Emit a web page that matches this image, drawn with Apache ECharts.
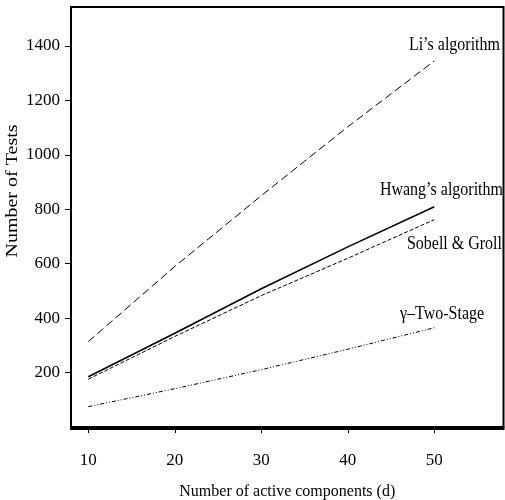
<!DOCTYPE html>
<html>
<head>
<meta charset="utf-8">
<script src="https://cdn.jsdelivr.net/npm/echarts@6/dist/echarts.min.js"></script>
<style>
  html, body { margin: 0; padding: 0; background: #fff; }
  #chart { width: 505px; height: 500px; }
</style>
</head>
<body>
<div id="chart"></div>
<script>
// Number of tests needed by each group-testing algorithm versus d
const activeComponents = [10, 20, 30, 40, 50];
const lisAlgorithm   = [314, 590, 850, 1103, 1345];
const hwangAlgorithm = [185, 345, 508, 662, 809];
const sobellGroll    = [176, 333, 483, 620, 762];
const gammaTwoStage  = [75, 141, 211, 286, 365];

const xTicks = [10, 20, 30, 40, 50];
const yTicks = [200, 400, 600, 800, 1000, 1200, 1400];

const serif = 'Liberation Serif';
const ink = '#000';

const pairs = (ys) => activeComponents.map((x, i) => [x, ys[i]]);

const chart = echarts.init(document.getElementById('chart'), null, { renderer: 'canvas' });

function lineSeries(name, ys, width, dash) {
  return {
    name: name,
    type: 'line',
    data: pairs(ys),
    symbol: 'none',
    silent: true,
    animation: false,
    lineStyle: { color: '#000', width: width, type: dash }
  };
}

// Tall serif lettering for the annotations
const labelStyle = { fontFamily: serif, fontSize: 16, fill: ink };
function note(text, x, y, align, rotated) {
  return {
    type: 'text', x: x, y: y, silent: true,
    rotation: rotated ? Math.PI / 2 : 0,
    scaleX: rotated ? 1.25 : 1,
    scaleY: rotated ? 1 : 1.2,
    style: Object.assign({ text: text, align: align, verticalAlign: 'middle' }, labelStyle)
  };
}

chart.setOption({
  animation: false,
  backgroundColor: '#fff',
  grid: {
    left: 71, top: 7, right: 1.5, bottom: 71,
    outerBoundsMode: 'none',
    containLabel: false,
    show: true, borderColor: '#000', borderWidth: 2, backgroundColor: 'transparent'
  },
  xAxis: {
    type: 'value',
    min: 8, max: 58,
    name: 'Number of active components (d)',
    nameLocation: 'middle',
    nameGap: 55,
    nameTextStyle: { fontFamily: serif, fontSize: 16, color: ink },
    axisLine: { show: true, lineStyle: { color: '#000', width: 2 } },
    axisTick: { show: true, length: 6, customValues: xTicks, lineStyle: { color: '#000', width: 1 } },
    axisLabel: { customValues: xTicks, margin: 23, fontFamily: serif, fontSize: 17, color: ink,
      formatter: (v) => String(v) },
    splitLine: { show: false }
  },
  yAxis: {
    type: 'value',
    min: -7, max: 1543,
    axisLine: { show: true, lineStyle: { color: '#000', width: 2 } },
    axisTick: { show: true, length: 6, customValues: yTicks, lineStyle: { color: '#000', width: 1 } },
    axisLabel: { customValues: yTicks, margin: 11, fontFamily: serif, fontSize: 17, color: ink,
      formatter: (v) => String(v) },
    splitLine: { show: false }
  },
  series: [
    lineSeries("Li's algorithm", lisAlgorithm, 1, [8, 4]),
    lineSeries("Hwang's algorithm", hwangAlgorithm, 1.6, 'solid'),
    lineSeries('Sobell & Groll', sobellGroll, 1, [4, 2]),
    lineSeries('\u03b3\u2013Two-Stage', gammaTwoStage, 1, [4, 2, 1, 2, 1, 2])
  ],
  graphic: [
    note('Number of Tests', 13, 191, 'center', true),
    note('Li\u2019s algorithm', 500, 44.5, 'right'),
    note('Hwang\u2019s algorithm', 503, 189.5, 'right'),
    note('Sobell & Groll', 502, 244, 'right'),
    note('\u03b3\u2013Two-Stage', 442, 314, 'center')
  ]
});
</script>
</body>
</html>
